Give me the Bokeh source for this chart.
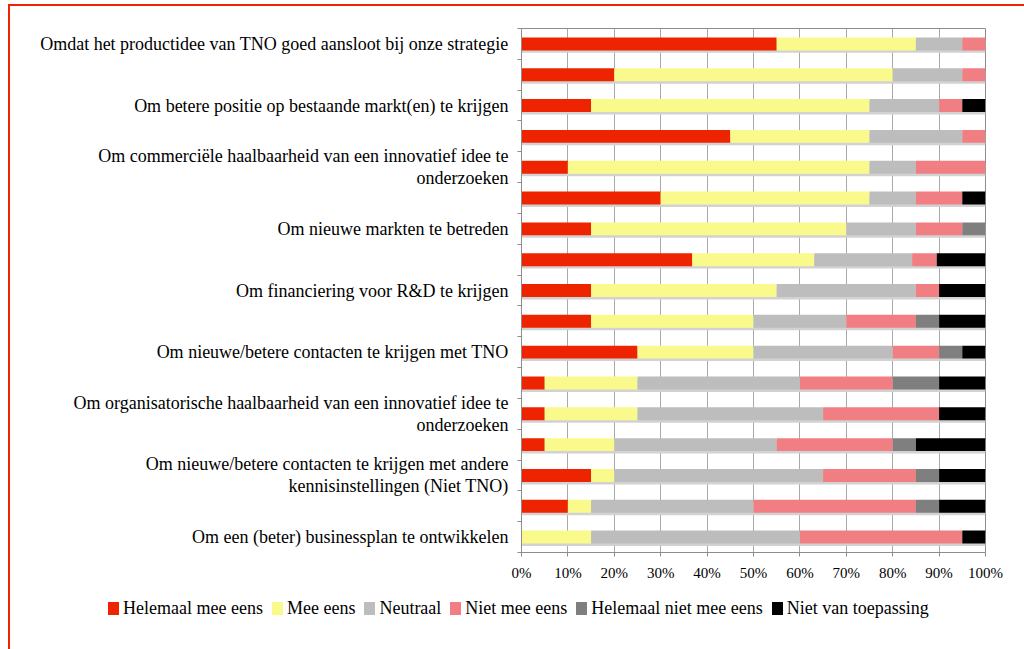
from bokeh.plotting import figure
from bokeh.layouts import column
from bokeh.models import ColumnDataSource, FixedTicker, Range1d, Div
from bokeh.embed import file_html
from bokeh.resources import INLINE

# ---- data ----
categories = [
    "Omdat het productidee van TNO goed aansloot bij onze strategie",
    "",
    "Om betere positie op bestaande markt(en) te krijgen",
    "",
    "Om commerciële haalbaarheid van een innovatief idee te\nonderzoeken",
    "",
    "Om nieuwe markten te betreden",
    "",
    "Om financiering voor R&D te krijgen",
    "",
    "Om nieuwe/betere contacten te krijgen met TNO",
    "",
    "Om organisatorische haalbaarheid van een innovatief idee te\nonderzoeken",
    "",
    "Om nieuwe/betere contacten te krijgen met andere\nkennisinstellingen (Niet TNO)",
    "",
    "Om een (beter) businessplan te ontwikkelen",
]
series_names = ["Helemaal mee eens", "Mee eens", "Neutraal", "Niet mee eens",
                "Helemaal niet mee eens", "Niet van toepassing"]
helemaal_mee_eens = [55, 20, 15, 45, 10, 30, 15, 36.8, 15, 15, 25, 5, 5, 5, 15, 10, 0]
mee_eens = [30, 60, 60, 30, 65, 45, 55, 26.3, 40, 35, 25, 20, 20, 15, 5, 5, 15]
neutraal = [10, 15, 15, 20, 10, 10, 15, 21.1, 30, 20, 30, 35, 40, 35, 45, 35, 45]
niet_mee_eens = [5, 5, 5, 5, 15, 10, 10, 5.3, 5, 15, 10, 20, 25, 25, 20, 35, 35]
helemaal_niet_mee_eens = [0, 0, 0, 0, 0, 0, 5, 0, 0, 5, 5, 10, 0, 5, 5, 5, 0]
niet_van_toepassing = [0, 0, 5, 0, 0, 5, 0, 10.5, 10, 10, 5, 10, 10, 15, 10, 10, 5]
x_ticks = [0, 10, 20, 30, 40, 50, 60, 70, 80, 90, 100]
x_tick_labels = ["0%", "10%", "20%", "30%", "40%", "50%", "60%", "70%", "80%", "90%", "100%"]

colors = ["#ee2400", "#fafa8c", "#bdbdbd", "#f17e82", "#7f7f7f", "#000000"]
series_values = [helemaal_mee_eens, mee_eens, neutraal, niet_mee_eens,
                 helemaal_niet_mee_eens, niet_van_toepassing]

n = len(categories)
pos = list(range(1, n + 1))
data = {"y": pos, "y_sh": [p_ + 0.08 for p_ in pos],
        "tot": [sum(v[i] for v in series_values) for i in range(n)]}
keys = []
for i, vals in enumerate(series_values):
    k = f"s{i}"
    keys.append(k)
    data[k] = vals
source = ColumnDataSource(data)

SERIF = "Liberation Serif"

p = figure(width=1006, height=580, output_backend="svg", toolbar_location=None,
           x_range=Range1d(0, 100), y_range=Range1d(n + 0.5, 0.5),
           min_border_left=511, min_border_right=31, min_border_top=22,
           min_border_bottom=34)

p.outline_line_color = "#8c8c8c"
p.background_fill_color = "white"
p.border_fill_color = "white"

# bar shadow
p.hbar(y="y_sh", left=0, right="tot", height=0.42, source=source,
       fill_color="#d2d2d2", line_color=None)

rends = p.hbar_stack(keys, y="y", height=0.42, source=source,
                     color=colors, line_color=None)

# grid
p.ygrid.grid_line_color = None
p.xgrid.grid_line_color = "#a9a9a9"
p.xgrid.ticker = FixedTicker(ticks=x_ticks)

# x axis
xa = p.xaxis[0]
xa.ticker = FixedTicker(ticks=x_ticks)
xa.major_label_overrides = {t: l for t, l in zip(x_ticks, x_tick_labels)}
xa.major_label_text_font = SERIF
xa.major_label_text_font_size = "15px"
xa.major_label_text_color = "black"
xa.axis_line_color = "#8c8c8c"
xa.major_tick_line_color = "#8c8c8c"
xa.major_tick_out = 4
xa.major_tick_in = 0
xa.minor_tick_line_color = None
xa.major_label_standoff = 8

# y axis
ya = p.yaxis[0]
label_pos = [pos[i] for i in range(n) if categories[i]]
ya.ticker = FixedTicker(ticks=label_pos, minor_ticks=[k + 0.5 for k in range(0, n + 1)])
ya.major_label_overrides = {pos[i]: categories[i] for i in range(n) if categories[i]}
ya.major_label_text_font = SERIF
ya.major_label_text_font_size = "18px"
ya.major_label_text_line_height = 1.1
ya.major_label_text_color = "black"
ya.axis_line_color = "#8c8c8c"
ya.major_tick_line_color = None
ya.major_tick_out = 0
ya.major_tick_in = 0
ya.minor_tick_line_color = "#8c8c8c"
ya.minor_tick_out = 4
ya.minor_tick_in = 0
ya.major_label_standoff = 9

# ---- legend strip (HTML, spans the full width below the chart) ----
items_html = "".join(
    f'<span style="display:inline-block;width:11px;height:13px;background:{c};'
    f'vertical-align:-1px;margin-right:4px"></span>'
    f'<span style="margin-right:9px">{name}</span>'
    for name, c in zip(series_names, colors)
)
legend_div = Div(
    text=f'<div style="font-family:\'{SERIF}\';font-size:18px;line-height:20px;'
         f'color:black;white-space:nowrap;padding-left:93px;padding-top:7px">'
         f'{items_html}</div>',
    width=1006, height=63,
)

layout = column(p, legend_div, spacing=0)
layout.styles = {"border-left": "2px solid #ee2400", "border-top": "2px solid #ee2400",
                 "margin-left": "8px", "margin-top": "4px"}

open("out.html", "w").write(file_html(layout, INLINE))
